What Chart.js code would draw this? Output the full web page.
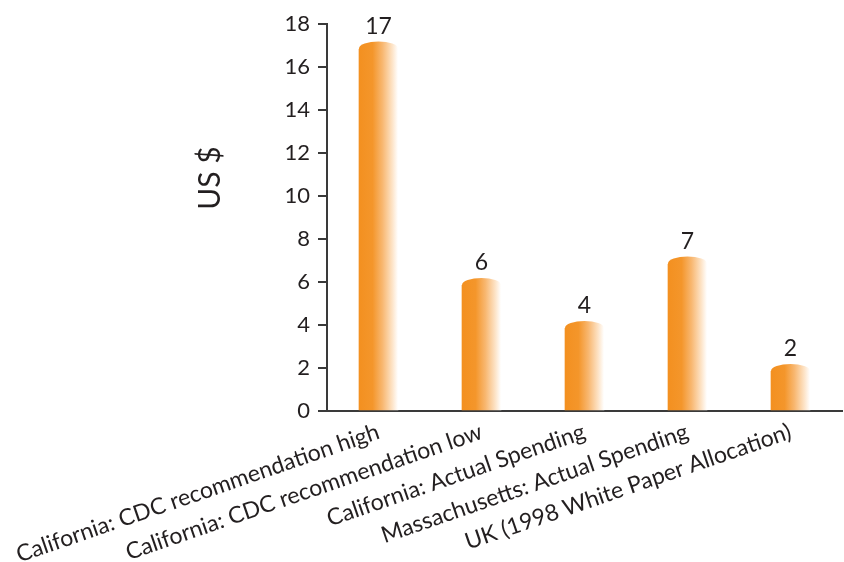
<!DOCTYPE html>
<html>
<head>
<meta charset="utf-8">
<script src="https://cdn.jsdelivr.net/npm/chart.js@4"></script>
<style>
  html, body { margin: 0; padding: 0; background: #ffffff; }
  #wrap { width: 844px; height: 562px; position: relative; }
</style>
</head>
<body>
<div id="wrap"><canvas id="c" width="844" height="562"></canvas></div>
<script>
const categories = [
  "California: CDC recommendation high",
  "California: CDC recommendation low",
  "California: Actual Spending",
  "Massachusetts: Actual Spending",
  "UK (1998 White Paper Allocation)"
];
const values = [17, 6, 4, 7, 2];
const yTicks = [0, 2, 4, 6, 8, 10, 12, 14, 16, 18];
const yTitle = "US $";

const TEXT = '#231F20';
const AXIS = '#3a3a3a';
const FONT = 'Lato';
const BAR_W = 39;
const CAP_H = 7;
const CAP_SHIFT = 3;

function barGradient(ctx, cx, w) {
  if (!isFinite(cx) || !isFinite(w)) return '#F39020';
  const g = ctx.createLinearGradient(cx - w / 2, 0, cx + w / 2, 0);
  g.addColorStop(0, '#F39020');
  g.addColorStop(0.35, '#F4962B');
  g.addColorStop(0.6, '#F8B770');
  g.addColorStop(0.85, '#FDE3C6');
  g.addColorStop(1, '#FFFFFF');
  return g;
}

const capsAndLabels = {
  id: 'capsAndLabels',
  afterDatasetsDraw(chart) {
    const ctx = chart.ctx;
    const meta = chart.getDatasetMeta(0);
    ctx.save();
    meta.data.forEach((bar, i) => {
      const p = bar.getProps(['x', 'y', 'width'], true);
      const w = p.width;
      const cy = p.y + CAP_SHIFT;
      ctx.clearRect(p.x - w / 2 - 1, p.y - 1, w + 2, CAP_SHIFT + 1);
      ctx.fillStyle = barGradient(ctx, p.x, w);
      ctx.beginPath();
      ctx.moveTo(p.x - w / 2, cy + 1);
      ctx.lineTo(p.x - w / 2, cy);
      ctx.ellipse(p.x, cy, w / 2, CAP_H, 0, Math.PI, 2 * Math.PI);
      ctx.lineTo(p.x + w / 2, cy + 1);
      ctx.closePath();
      ctx.fill();
      ctx.fillStyle = TEXT;
      ctx.font = '23px ' + FONT;
      ctx.textAlign = 'center';
      ctx.textBaseline = 'alphabetic';
      ctx.fillText(String(values[i]), p.x, cy - CAP_H - 8);
    });
    ctx.restore();
  }
};

const axisTitle = {
  id: 'axisTitle',
  afterDraw(chart) {
    const ctx = chart.ctx;
    const a = chart.chartArea;
    ctx.save();
    ctx.translate(a.left - 117, a.top + 154);
    ctx.rotate(-Math.PI / 2);
    ctx.fillStyle = TEXT;
    ctx.font = '30px ' + FONT;
    ctx.textAlign = 'center';
    ctx.textBaseline = 'middle';
    ctx.fillText(yTitle, 0, 0);
    ctx.restore();
  }
};

new Chart(document.getElementById('c'), {
  type: 'bar',
  data: {
    labels: categories,
    datasets: [{
      data: values,
      barThickness: BAR_W,
      borderWidth: 0,
      backgroundColor(context) {
        const chart = context.chart;
        const xs = chart.scales && chart.scales.x;
        if (!xs || context.dataIndex === undefined) return '#F39020';
        const cx = xs.getPixelForValue(context.dataIndex);
        return barGradient(chart.ctx, cx, BAR_W);
      }
    }]
  },
  options: {
    responsive: false,
    animation: false,
    devicePixelRatio: 1,
    layout: { padding: { top: 24, right: 2, left: 0, bottom: 0 } },
    plugins: {
      legend: { display: false },
      tooltip: { enabled: false },
      title: { display: false }
    },
    scales: {
      x: {
        type: 'category',
        offset: true,
        grid: { display: false, drawTicks: false },
        border: { display: true, color: AXIS, width: 2 },
        ticks: {
          autoSkip: false,
          minRotation: 19,
          maxRotation: 19,
          padding: 7,
          color: TEXT,
          font: { family: FONT, size: 23 }
        },
        afterFit(scale) {
          scale.height = 151;
          scale.paddingLeft = 0;
          scale.paddingRight = 0;
        }
      },
      y: {
        min: 0,
        max: 18,
        afterBuildTicks(scale) { scale.ticks = yTicks.map(v => ({ value: v })); },
        grid: {
          display: true,
          drawOnChartArea: false,
          drawTicks: true,
          tickLength: 9,
          color: AXIS,
          lineWidth: 2
        },
        border: { display: true, color: AXIS, width: 2 },
        ticks: {
          padding: 8,
          color: TEXT,
          font: { family: FONT, size: 22 }
        },
        afterFit(scale) { scale.width = 327; }
      }
    }
  },
  plugins: [capsAndLabels, axisTitle]
});
</script>
</body>
</html>
